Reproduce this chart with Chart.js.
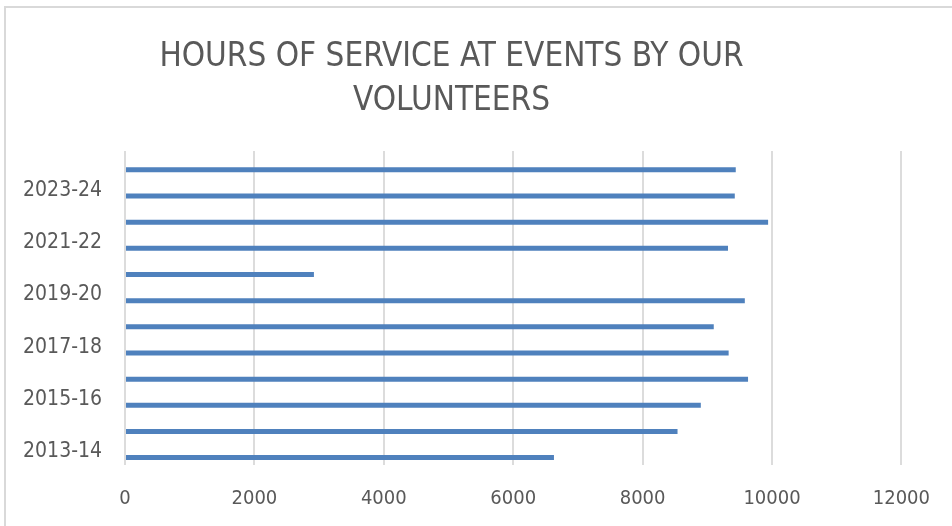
<!DOCTYPE html>
<html lang="en">
<head>
    <meta charset="UTF-8">
    <title>Hours of Service</title>
    <script src="https://cdn.jsdelivr.net/npm/chart.js@4.4.1/dist/chart.umd.min.js"></script>
    <style>
        html, body { margin: 0; padding: 0; background: #fff; overflow: hidden; }
        #frame {
            position: absolute; left: 4px; top: 6px; width: 960px; height: 540px;
            border-left: 2px solid #d9d9d9; border-top: 2px solid #d9d9d9;
        }
        #hoursChart { position: absolute; left: 0; top: 0; }
    </style>
</head>
<body>
<div id="frame"></div>
<canvas id="hoursChart" width="952" height="526"></canvas>

<script>
    // seasons, oldest first (drawn bottom-up)
    var seasons = ["2013-14", "2014-15", "2015-16", "2016-17", "2017-18", "2018-19",
                   "2019-20", "2020-21", "2021-22", "2022-23", "2023-24", "2024-25"];
    var hours = [6630, 8540, 8900, 9630, 9330, 9100, 9580, 2920, 9320, 9940, 9425, 9440];
    var emptySeries = [null, null, null, null, null, null, null, null, null, null, null, null];
    var xTicks = [0, 2000, 4000, 6000, 8000, 10000, 12000];
    //
    var textColor = "#595959";
    var fontFam = "'DejaVu Sans Condensed', 'DejaVu Sans', sans-serif";
    //
    var hoursChart = new Chart("hoursChart", {
        type: "bar",
        data: {
            labels: seasons,
            datasets: [{
                label: "blank",
                data: emptySeries,
                backgroundColor: "#4f81bd"
            }, {
                label: "Hours",
                data: hours,
                backgroundColor: "#4f81bd",
                borderWidth: 0
            }]
        },
        options: {
            indexAxis: "y",
            responsive: false,
            animation: false,
            datasets: {
                bar: { categoryPercentage: 0.87, barPercentage: 0.44 }
            },
            layout: { padding: { left: 0, right: 49, top: 0, bottom: 0 } },
            scales: {
                x: {
                    min: 0,
                    max: 12000,
                    afterBuildTicks: function(scale) {
                        scale.ticks = xTicks.map(function(v) { return { value: v }; });
                    },
                    afterFit: function(scale) { scale.height = 61; },
                    grid: { color: "#dcdcdc", lineWidth: 2, drawTicks: false },
                    border: { display: false },
                    ticks: {
                        color: textColor,
                        padding: 22,
                        font: { family: fontFam, size: 20 },
                        callback: function(value) { return String(value); }
                    }
                },
                y: {
                    reverse: true,
                    afterFit: function(scale) {
                        scale.width = 125;
                        scale.paddingTop = 0;
                        scale.paddingBottom = 0;
                    },
                    grid: { display: false, drawTicks: false },
                    border: { display: false },
                    ticks: {
                        color: textColor,
                        padding: 23,
                        autoSkip: false,
                        font: { family: fontFam, size: 21 },
                        callback: function(value, index) {
                            return index % 2 === 0 ? this.getLabelForValue(value) : "";
                        }
                    }
                }
            },
            plugins: {
                legend: { display: false },
                tooltip: { enabled: false },
                title: {
                    display: true,
                    text: ["HOURS OF SERVICE AT EVENTS BY OUR", "VOLUNTEERS"],
                    color: textColor,
                    font: { family: fontFam, size: 33, weight: "normal", lineHeight: 1.35 },
                    padding: { top: 35, bottom: 27 }
                }
            }
        }
    });
</script>
</body>
</html>
